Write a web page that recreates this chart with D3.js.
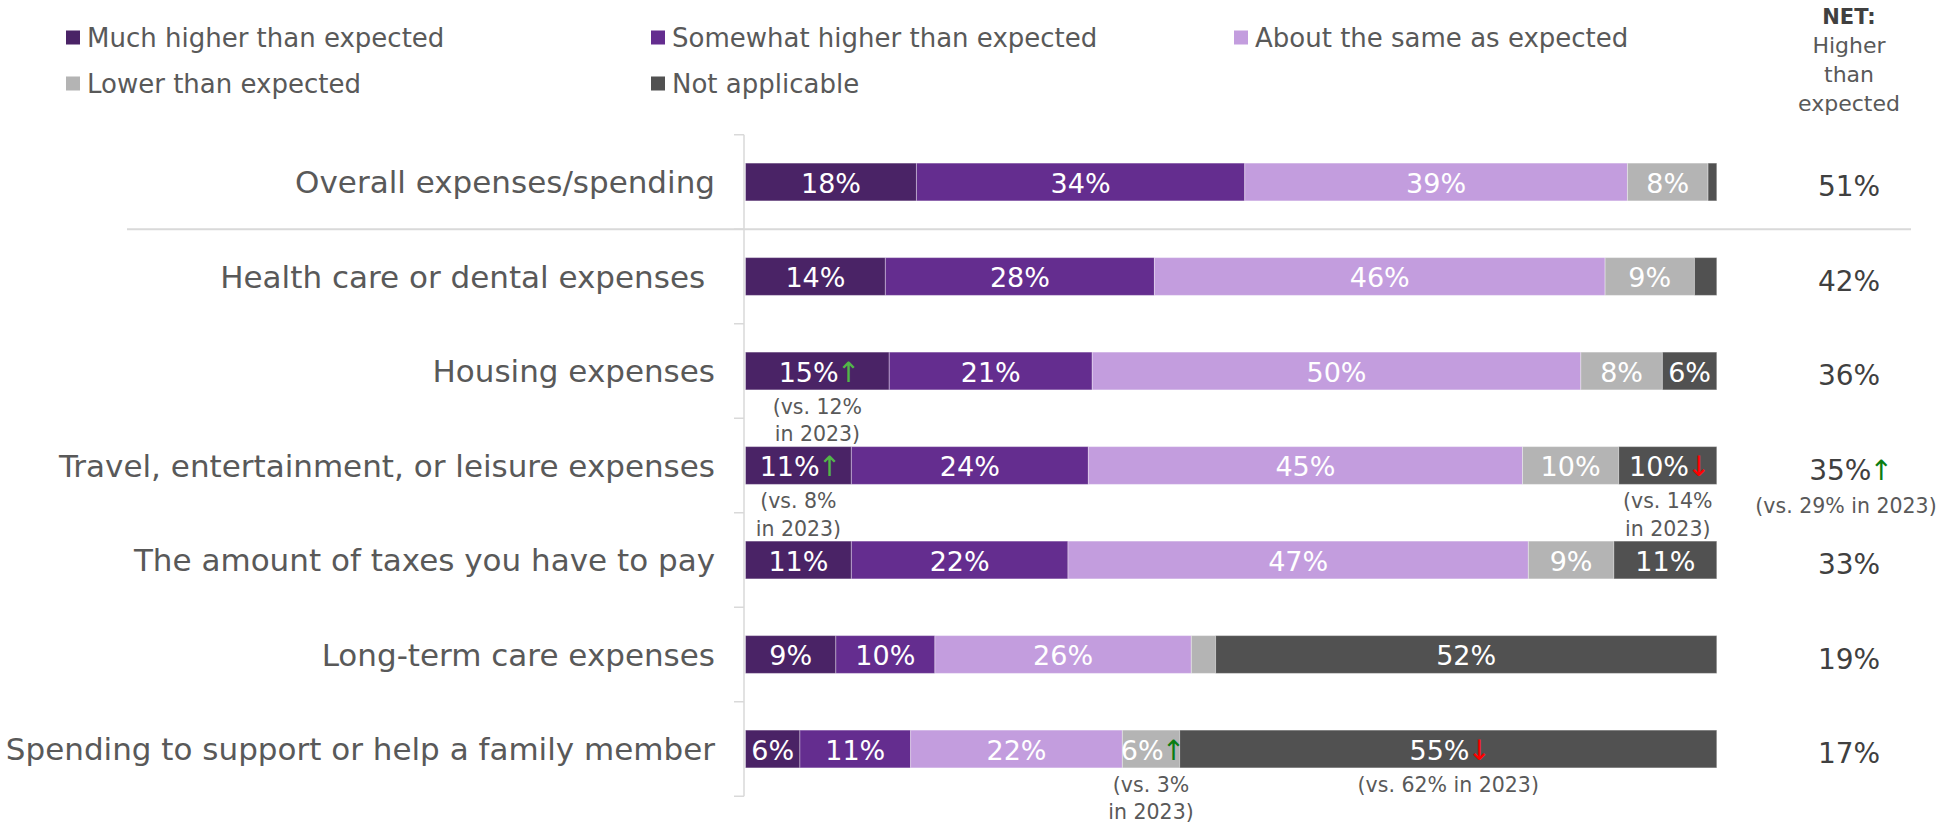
<!DOCTYPE html>
<html><head><meta charset="utf-8">
<script src="https://cdn.jsdelivr.net/npm/d3@7"></script>
<style>
body{margin:0;background:#fff;}
svg{display:block;}
text{font-family:"DejaVu Sans",sans-serif;}
</style>
</head><body>
<svg id="chart" width="1939" height="832"></svg>
<script>
// ---------- data ----------
const categories = [
  "Overall expenses/spending",
  "Health care or dental expenses ",
  "Housing expenses",
  "Travel, entertainment, or leisure expenses",
  "The amount of taxes you have to pay",
  "Long-term care expenses",
  "Spending to support or help a family member"
];
const seriesNames = [
  "Much higher than expected",
  "Somewhat higher than expected",
  "About the same as expected",
  "Lower than expected",
  "Not applicable"
];
const muchHigher     = [17.6, 14.4, 14.8, 10.9, 10.9,  9.3,  5.6];
const somewhatHigher = [33.8, 27.7, 20.9, 24.4, 22.3, 10.2, 11.4];
const aboutSame      = [39.4, 46.4, 50.3, 44.7, 47.4, 26.4, 21.8];
const lowerThan      = [ 8.3,  9.2,  8.4,  9.9,  8.8,  2.5,  5.9];
const notApplicable  = [ 0.9,  2.3,  5.6, 10.1, 10.6, 51.6, 55.3];
const netHigher      = [51, 42, 36, 35, 33, 19, 17];
const netHeader      = ["NET:", "Higher", "than", "expected"];
// significance call-outs vs 2023
const callouts = [
  {row: 2, series: 0, dir: "up",   note: ["(vs. 12%", "in 2023)"]},
  {row: 3, series: 0, dir: "up",   note: ["(vs. 8%", "in 2023)"]},
  {row: 3, series: 4, dir: "down", note: ["(vs. 14%", "in 2023)"]},
  {row: 6, series: 3, dir: "up",   note: ["(vs. 3%", "in 2023)"]},
  {row: 6, series: 4, dir: "down", note: ["(vs. 62% in 2023)"]}
];
const netCallouts = [
  {row: 3, dir: "up", note: ["(vs. 29% in 2023)"]}
];

// ---------- styles ----------
const colors = ["#4a2366", "#642d8f", "#c39dde", "#b4b4b4", "#515151"];
const calloutArrowColors = ["#52b748", "#52b748", "#ff0000", "#0a7d12", "#ff0000"];
const netArrowColors = ["#0a7d12"];
const textGray = "#595959";
const arrowChar = {up: "\u2191", down: "\u2193"};

const svg = d3.select("#chart");

const x = d3.scaleLinear().domain([0, 100]).range([745.5, 1716.8]);
const y = d3.scaleBand().domain(categories)
  .range([134.75, 796.25]).paddingInner(0.6).paddingOuter(0.3);
const bw = y.bandwidth();

const series = [muchHigher, somewhatHigher, aboutSame, lowerThan, notApplicable];
const rows = categories.map((c, i) => {
  const o = {cat: c};
  seriesNames.forEach((s, j) => o[s] = series[j][i]);
  return o;
});
const stacked = d3.stack().keys(seriesNames)(rows);

function addArrow(textSel, dir, color) {
  textSel.append("tspan")
    .attr("font-family", "DejaVu Sans")
    .attr("font-size", 28)
    .attr("dx", -2)
    .attr("letter-spacing", -4)
    .attr("fill", color)
    .text(arrowChar[dir]);
}

// ---------- legend ----------
const legendPos = [[66, 37.5], [651, 37.5], [1234, 37.5], [66, 83.5], [651, 83.5]];
const lg = svg.append("g");
seriesNames.forEach((s, i) => {
  const [lx, ly] = legendPos[i];
  lg.append("rect").attr("x", lx).attr("y", ly - 7).attr("width", 14).attr("height", 14)
    .attr("fill", colors[i]);
  lg.append("text").attr("x", lx + 21).attr("y", ly + 9.5)
    .attr("font-size", 26).attr("fill", textGray).text(s);
});

// ---------- NET header ----------
const hdr = svg.append("g");
netHeader.forEach((t, i) => {
  hdr.append("text").attr("x", 1849).attr("y", 24 + i * 29)
    .attr("text-anchor", "middle")
    .attr("font-size", i === 0 ? 21 : 22)
    .attr("font-weight", i === 0 ? "bold" : "normal")
    .attr("fill", i === 0 ? "#404040" : textGray)
    .text(t);
});

// ---------- axis ----------
const axisX = 744;
const yTop = y.range()[0], yBot = y.range()[1];
const ax = svg.append("g").attr("stroke", "#d9d9d9").attr("stroke-width", 1.5);
ax.append("line").attr("x1", axisX).attr("x2", axisX).attr("y1", yTop).attr("y2", yBot);
d3.range(categories.length + 1).forEach(i => {
  const ty = yTop + i * y.step();
  ax.append("line").attr("x1", axisX - 10).attr("x2", axisX).attr("y1", ty).attr("y2", ty);
});

// separator under the overall row
const sepY = (y(categories[0]) + bw + y(categories[1])) / 2;
svg.append("line").attr("x1", 127).attr("x2", 1911).attr("y1", sepY).attr("y2", sepY)
  .attr("stroke", "#d9d9d9").attr("stroke-width", 2);

// ---------- category labels ----------
svg.append("g").selectAll("text").data(categories).join("text")
  .attr("x", 715).attr("y", d => y(d) + bw / 2 + 11)
  .attr("text-anchor", "end").attr("font-size", 31).attr("fill", textGray)
  .style("white-space", "pre")
  .text(d => d);

// ---------- bars ----------
const barG = svg.append("g");
stacked.forEach((layer, j) => {
  barG.append("g").selectAll("rect").data(layer).join("rect")
    .attr("x", d => x(d[0]))
    .attr("width", d => x(d[1]) - x(d[0]))
    .attr("y", d => y(d.data.cat))
    .attr("height", bw)
    .attr("fill", colors[j])
    .attr("stroke", "#ffffff").attr("stroke-opacity", 0.35).attr("stroke-width", 1);
});

// ---------- bar value labels ----------
const labG = svg.append("g");
stacked.forEach((layer, j) => {
  layer.forEach((d, i) => {
    const v = d[1] - d[0];
    if (v < 4) return;
    const cx = (x(d[0]) + x(d[1])) / 2;
    const cy = y(d.data.cat) + bw / 2;
    const t = labG.append("text").attr("x", cx).attr("y", cy + 10.5)
      .attr("text-anchor", "middle").attr("font-size", 27).attr("fill", "#ffffff");
    t.append("tspan").text(Math.round(series[j][i]) + "%");
    const ci = callouts.findIndex(c => c.row === i && c.series === j);
    if (ci >= 0) {
      const c = callouts[ci];
      addArrow(t, c.dir, calloutArrowColors[ci]);
      c.note.forEach((line, k) => {
        labG.append("text").attr("x", cx)
          .attr("y", y(d.data.cat) + bw + 24 + k * 27.5)
          .attr("text-anchor", "middle").attr("font-size", 20.5).attr("fill", textGray)
          .text(line);
      });
    }
  });
});

// ---------- NET column ----------
const netG = svg.append("g");
categories.forEach((c, i) => {
  const cy = y(c) + bw / 2;
  const t = netG.append("text").attr("x", 1849).attr("y", cy + 14)
    .attr("text-anchor", "middle").attr("font-size", 28).attr("fill", "#404040");
  t.append("tspan").text(netHigher[i] + "%");
  const ni = netCallouts.findIndex(n => n.row === i);
  if (ni >= 0) {
    const n = netCallouts[ni];
    addArrow(t, n.dir, netArrowColors[ni]);
    n.note.forEach((line, k) => {
      netG.append("text").attr("x", 1846).attr("y", cy + 47 + k * 27.5)
        .attr("text-anchor", "middle").attr("font-size", 20.5).attr("fill", textGray)
        .text(line);
    });
  }
});
</script>
</body></html>
